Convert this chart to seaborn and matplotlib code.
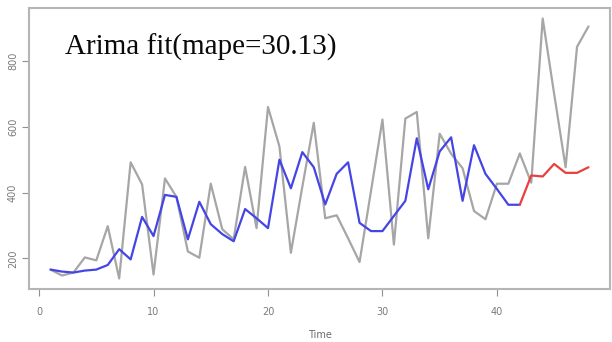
import matplotlib
matplotlib.use("Agg")
import matplotlib.pyplot as plt
import seaborn as sns
import pandas as pd

# Observed series (t = 1..48)
time_obs = list(range(1, 49))
observed = [166, 148, 157, 203, 194, 298, 139, 492, 425, 151,
            443, 387, 221, 202, 427, 289, 258, 478, 292, 660,
            540, 217, 418, 612, 322, 331, 261, 189, 405, 622,
            242, 625, 645, 261, 579, 518, 474, 344, 319, 427,
            427, 519, 430, 929, 700, 477, 843, 905]

# Fitted values (t = 1..42)
time_fit = list(range(1, 43))
fitted = [166, 160, 157, 163, 166, 180, 228, 197, 326, 268,
          393, 387, 258, 372, 304, 274, 252, 350, 322, 292,
          500, 413, 523, 477, 364, 457, 492, 308, 283, 283,
          329, 375, 565, 410, 525, 568, 375, 544, 457, 411,
          363, 363]

# Forecast (t = 42..48)
time_fc = list(range(42, 49))
forecast = [363, 452, 449, 487, 460, 460, 477]

title_text = "Arima fit(mape=30.13)"
x_ticks = [0, 10, 20, 30, 40]
y_ticks = [200, 400, 600, 800]

sns.set_style("white")

fig = plt.figure(figsize=(6.12, 3.42), dpi=100)
ax = fig.add_axes([29 / 612, 1 - 289 / 342, (610 - 29) / 612, (289 - 8) / 342])

df_obs = pd.DataFrame({"Time": time_obs, "value": observed})
df_fit = pd.DataFrame({"Time": time_fit, "value": fitted})
df_fc = pd.DataFrame({"Time": time_fc, "value": forecast})

sns.lineplot(data=df_obs, x="Time", y="value", ax=ax, color="#a6a6a6", linewidth=1.6)
sns.lineplot(data=df_fit, x="Time", y="value", ax=ax, color="#4545e6", linewidth=1.6)
sns.lineplot(data=df_fc, x="Time", y="value", ax=ax, color="#e84040", linewidth=1.6)

ax.set_xlim(-0.88, 49.88)
ax.set_ylim(107, 961)
ax.set_xticks(x_ticks)
ax.set_yticks(y_ticks)
ax.set_xticklabels([str(t) for t in x_ticks])
ax.set_yticklabels([str(t) for t in y_ticks], rotation=90, va="center")

for sp in ax.spines.values():
    sp.set_visible(True)
    sp.set_color("#b5b5b5")
    sp.set_linewidth(1.5)

ax.tick_params(axis="both", direction="out", length=5, width=0.8, color="#909090",
               labelcolor="#7a7a7a", labelsize=7,
               bottom=True, left=True)
ax.tick_params(axis="x", pad=8)
ax.tick_params(axis="y", pad=3)

ax.set_xlabel("Time", fontsize=7, color="#6a6a6a", labelpad=9)
ax.set_ylabel("")

fig.text(65 / 612, 1 - 47 / 342, title_text, family="Liberation Serif",
         fontsize=21, color="#0a0a0a", va="center", ha="left")

fig.savefig("out.png", dpi=100)
